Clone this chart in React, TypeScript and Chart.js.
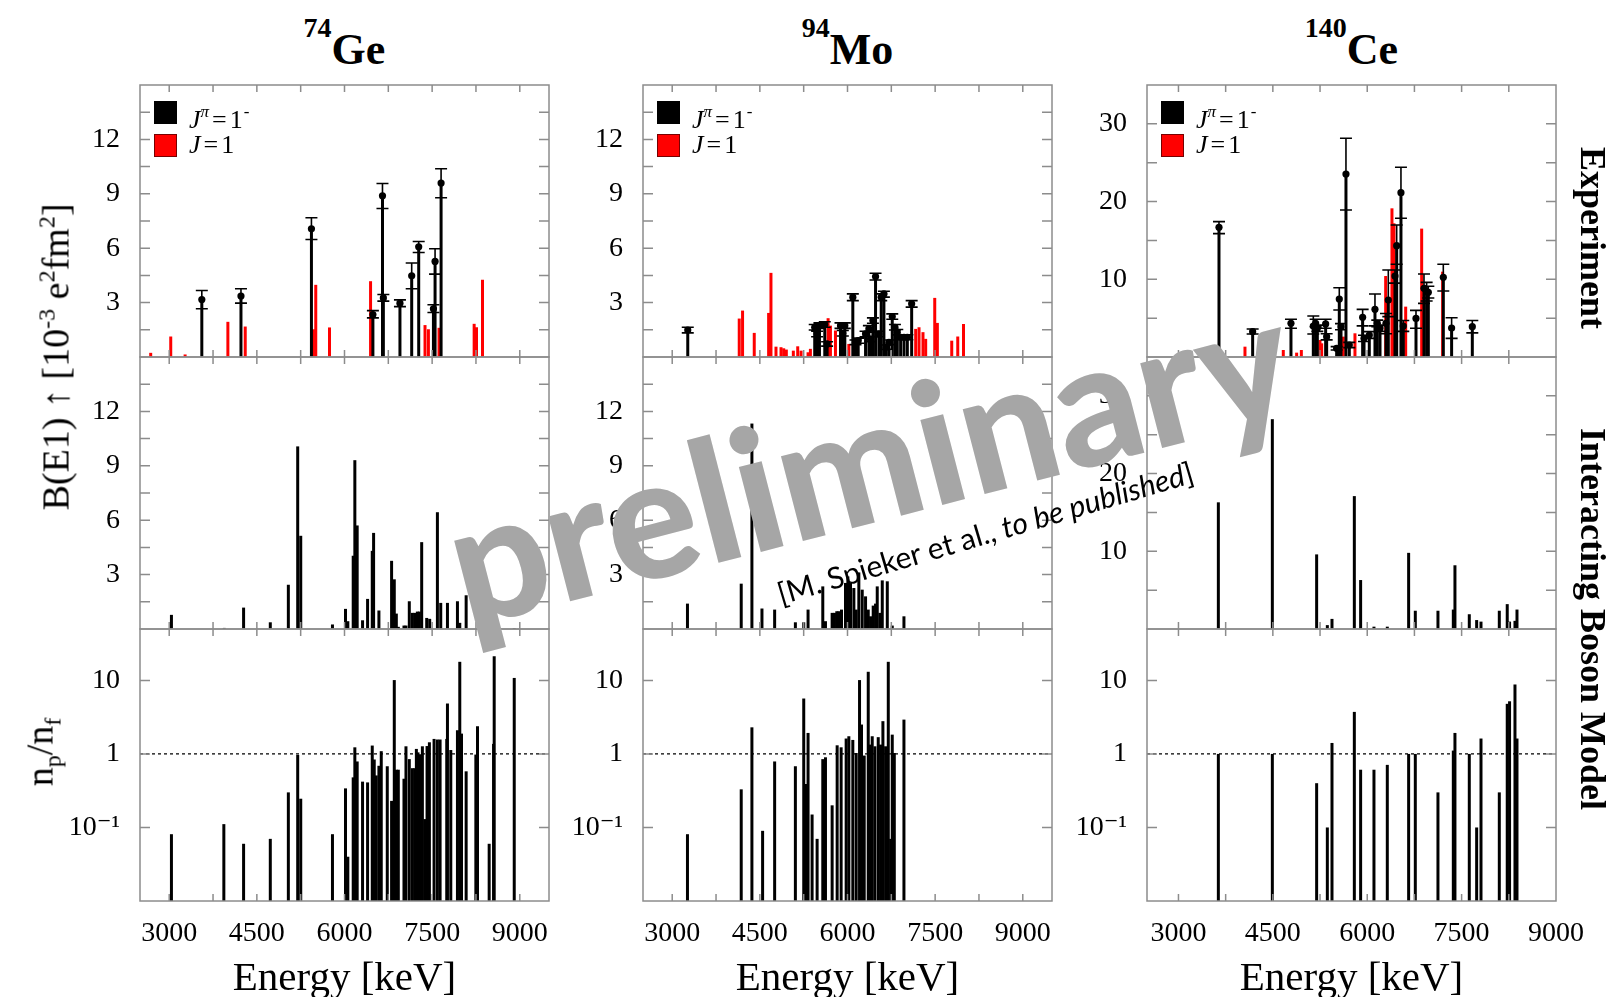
import React, { useEffect, useRef } from 'react';
import { Chart, registerables } from 'chart.js';

Chart.register(...registerables);

// ---------------- tick values / labels ----------------
const energyTicks = [3000, 3750, 4500, 5250, 6000, 6750, 7500, 8250, 9000];
const energyLabels = [3000, 4500, 6000, 7500, 9000];
const bTicksSmall = [1.5, 3, 4.5, 6, 7.5, 9, 10.5, 12, 13.5];
const bLabelsSmall = [3, 6, 9, 12];
const bTicksCe = [5, 10, 15, 20, 25, 30];
const bLabelsCe = [10, 20, 30];
const ratioTicks = [0.1, 1, 10];
const ratioLabels = ['10⁻¹', '1', '10'];

// ---------------- 74Ge experiment ----------------
const geExpBlackE = [3558, 4228, 5434, 6486, 6650, 6665, 6949, 7150, 7270, 7522, 7550, 7653];
const geExpBlackB = [3.17, 3.36, 7.07, 2.34, 8.89, 3.26, 2.97, 4.48, 6.08, 2.66, 5.27, 9.59];
const geExpBlackLo = [2.66, 2.97, 6.48, 2.16, 8.19, 3.08, 2.78, 3.76, 5.76, 2.45, 4.57, 8.78];
const geExpBlackHi = [3.67, 3.76, 7.68, 2.56, 9.57, 3.45, 3.15, 5.18, 6.37, 2.88, 5.97, 10.38];
const geExpRedE = [2683, 3026, 3272, 4004, 4301, 5468, 5508, 5743, 6446, 7378, 7436, 7618, 8219, 8259, 8362];
const geExpRedB = [0.23, 1.13, 0.14, 1.94, 1.68, 1.53, 3.98, 1.63, 4.18, 1.76, 1.53, 1.61, 1.83, 1.64, 4.26];

// ---------------- 94Mo experiment ----------------
const moExpBlackE = [3266, 5439, 5480, 5520, 5611, 5651, 5880, 5920, 5954, 6091, 6137, 6183, 6309, 6366, 6394, 6435, 6480, 6537, 6577, 6623, 6663, 6709, 6766, 6812, 6852, 6909, 6967, 7024, 7098];
const moExpBlackB = [1.49, 1.64, 1.27, 1.73, 1.79, 0.72, 1.73, 1.31, 1.73, 3.30, 0.81, 0.90, 1.27, 1.55, 0.99, 2.01, 4.44, 1.27, 3.30, 3.48, 0.54, 0.81, 2.23, 1.64, 1.37, 1.09, 1.09, 1.09, 2.93];
const moExpBlackLo = [1.33, 1.49, 1.12, 1.58, 1.64, 0.6, 1.58, 1.16, 1.58, 3.11, 0.68, 0.76, 1.12, 1.37, 0.85, 1.86, 4.25, 1.12, 3.11, 3.30, 0.42, 0.68, 2.08, 1.49, 1.22, 0.95, 0.95, 0.95, 2.75];
const moExpBlackHi = [1.64, 1.79, 1.42, 1.88, 1.94, 0.84, 1.88, 1.46, 1.88, 3.48, 0.94, 1.04, 1.42, 1.73, 1.13, 2.16, 4.62, 1.42, 3.48, 3.63, 0.66, 0.94, 2.38, 1.79, 1.52, 1.23, 1.23, 1.23, 3.11];
const moExpRedE = [4147, 4204, 4404, 4650, 4690, 4776, 4862, 4908, 4953, 5073, 5148, 5205, 5325, 5365, 5668, 5708, 5794, 6023, 7167, 7224, 7292, 7338, 7493, 7538, 7784, 7887, 7985];
const moExpRedB = [2.12, 2.56, 1.33, 2.43, 4.64, 0.57, 0.54, 0.48, 0.41, 0.35, 0.59, 0.35, 0.26, 0.45, 2.14, 1.73, 1.46, 0.72, 1.55, 1.64, 1.37, 1.0, 3.26, 1.88, 0.9, 1.13, 1.82];

// ---------------- 140Ce experiment ----------------
const ceExpBlackE = [3644, 4179, 4788, 5143, 5180, 5207, 5339, 5355, 5514, 5556, 5583, 5662, 5715, 5927, 5949, 6033, 6123, 6160, 6203, 6298, 6335, 6441, 6468, 6536, 6573, 6775, 6902, 6944, 6971, 7209, 7341, 7670];
const ceExpBlackB = [16.69, 3.26, 4.33, 3.99, 4.33, 3.69, 4.25, 2.62, 1.12, 7.46, 3.90, 23.55, 1.54, 5.10, 2.40, 2.83, 6.13, 4.33, 3.69, 4.33, 7.33, 10.42, 14.33, 21.15, 3.99, 4.97, 8.84, 8.41, 8.32, 10.25, 3.73, 3.90];
const ceExpBlackLo = [15.87, 2.96, 3.69, 2.96, 3.9, 3.3, 3.69, 2.2, 0.9, 6.05, 3.5, 18.92, 1.2, 4.0, 2.0, 2.4, 4.0, 3.9, 3.3, 3.0, 5.2, 9.5, 11.93, 17.85, 3.3, 3.69, 6.9, 7.2, 7.6, 8.5, 2.4, 3.1];
const ceExpBlackHi = [17.42, 3.6, 4.85, 5.28, 4.85, 4.1, 4.85, 3.0, 1.34, 8.92, 4.3, 28.14, 1.88, 6.13, 2.8, 3.26, 8.1, 4.75, 4.1, 5.6, 11.2, 11.2, 16.99, 24.41, 4.7, 6.0, 10.68, 9.6, 9.1, 11.93, 5.06, 4.7];
const ceExpRedE = [4057, 4666, 4878, 4953, 5249, 5276, 5620, 5805, 6293, 6393, 6425, 6611, 6865, 7198];
const ceExpRedB = [1.33, 0.9, 0.56, 0.9, 2.19, 1.76, 2.62, 3.05, 10.42, 19.13, 17.2, 6.48, 16.52, 10.98];

// ---------------- IBM B(E1) ----------------
const geIbmE = [3038, 3941, 4273, 4730, 5039, 5199, 5251, 5794, 6017, 6057, 6149, 6177, 6217, 6309, 6395, 6475, 6498, 6589, 6806, 6852, 6887, 6921, 7018, 7052, 7109, 7161, 7201, 7247, 7281, 7321, 7407, 7458, 7590, 7647, 7762, 7933, 7973, 8082, 8551, 8905];
const geIbmB = [0.78, 0.06, 1.18, 0.37, 2.44, 10.07, 5.14, 0.25, 1.11, 0.43, 4.04, 9.31, 5.71, 0.48, 1.66, 4.31, 5.30, 1.02, 3.76, 2.74, 0.85, 0.12, 0.19, 0.19, 1.53, 0.89, 0.89, 0.96, 0.96, 4.79, 0.61, 0.56, 6.44, 1.44, 1.44, 1.53, 0.34, 1.86, 0.74, 0.05];
const moIbmE = [3261, 4181, 4364, 4536, 4753, 5108, 5251, 5325, 5577, 5623, 5737, 5777, 5817, 5851, 5897, 5966, 6006, 6051, 6109, 6149, 6194, 6252, 6309, 6355, 6395, 6440, 6480, 6509, 6555, 6595, 6681, 6766, 6966];
const moIbmB = [1.40, 2.50, 11.33, 1.13, 1.07, 0.37, 0.37, 1.07, 2.35, 0.43, 0.89, 0.89, 0.98, 0.98, 1.07, 2.54, 2.90, 2.54, 2.26, 1.07, 3.12, 2.17, 1.80, 1.07, 0.70, 1.29, 1.40, 2.35, 0.89, 2.68, 2.63, 0.19, 0.70];
const ceIbmE = [3634, 4492, 5196, 5366, 5440, 5795, 5895, 6107, 6319, 6658, 6764, 7124, 7368, 7394, 7622, 7739, 7808, 8099, 8225, 8262, 8348, 8380];
const ceIbmB = [16.3, 27.0, 9.6, 0.5, 1.3, 17.1, 6.3, 0.3, 0.3, 9.8, 2.35, 2.35, 2.5, 8.2, 1.9, 1.15, 0.95, 2.35, 3.2, 0.95, 1.05, 2.5];

// ---------------- IBM n_p / n_f ----------------
const geRatioE = [3038, 3935, 4273, 4730, 5039, 5199, 5251, 5794, 6017, 6057, 6149, 6177, 6217, 6309, 6395, 6475, 6509, 6543, 6589, 6629, 6732, 6806, 6852, 6887, 6921, 7018, 7052, 7109, 7161, 7201, 7230, 7258, 7293, 7333, 7373, 7413, 7453, 7533, 7590, 7636, 7750, 7762, 7819, 7933, 7973, 8002, 8082, 8248, 8276, 8476, 8551, 8562, 8905];
const geRatio = [0.081, 0.111, 0.060, 0.070, 0.30, 0.97, 0.246, 0.081, 0.34, 0.040, 0.48, 1.23, 0.79, 0.42, 0.41, 1.30, 0.84, 0.51, 0.69, 1.09, 0.68, 0.23, 10.1, 0.61, 0.61, 0.46, 1.27, 0.85, 0.64, 0.64, 1.17, 1.05, 0.99, 1.27, 0.13, 1.28, 1.44, 1.60, 1.57, 1.57, 1.60, 4.85, 1.13, 2.10, 17.9, 1.89, 0.58, 0.98, 2.38, 0.060, 1.37, 21.3, 10.8];
const moRatioE = [3261, 4181, 4364, 4547, 4753, 5108, 5251, 5291, 5325, 5394, 5480, 5577, 5623, 5737, 5823, 5891, 5977, 6023, 6091, 6149, 6206, 6240, 6286, 6355, 6383, 6423, 6469, 6526, 6566, 6606, 6652, 6698, 6738, 6766, 6801, 6966];
const moRatio = [0.081, 0.33, 2.30, 0.09, 0.79, 0.68, 5.67, 0.39, 1.93, 0.15, 0.07, 0.85, 0.90, 0.20, 1.31, 1.23, 1.62, 1.74, 1.55, 1.03, 10.1, 2.51, 0.95, 13.1, 1.34, 1.74, 1.27, 1.69, 1.34, 2.79, 1.27, 17.9, 0.07, 1.83, 1.03, 2.93];
const ceRatio = [1.0, 1.0, 0.40, 0.10, 1.41, 3.73, 0.61, 0.61, 0.71, 1.0, 1.0, 0.30, 1.11, 1.93, 1.0, 0.10, 1.62, 0.30, 4.8, 5.2, 8.8, 1.62];

// ---------------- layout ----------------
const COL_L = [140, 643, 1147];
const PLOT_W = 409;
const ROW_T = [85, 357, 629];
const PLOT_H = 272;
const Y_AXIS_W = 100;
const PAD_R = 40;
const X_AXIS_H = 70;

const SERIF = "'Liberation Serif', 'DejaVu Serif', serif";
const RED = '#ff0000';

interface BarSet { e: number[]; v: number[]; color: string; width: number }
interface ErrSet { e: number[]; v: number[]; lo: number[]; hi: number[] }
interface PanelSpec {
  col: number;
  row: number;
  xMax: number;
  yType: 'linear' | 'logarithmic';
  yMin: number;
  yMax: number;
  yTicks: number[];
  yLabel: (v: number) => string;
  bars: BarSet[];
  points?: ErrSet;
  unity?: boolean;
}

const smallLabel = (v: number) => (bLabelsSmall.includes(v) ? String(v) : '');
const ceLabel = (v: number) => (bLabelsCe.includes(v) ? String(v) : '');
const ratioLabel = (v: number) => {
  const i = ratioTicks.indexOf(v);
  return i >= 0 ? ratioLabels[i] : '';
};

const panels: PanelSpec[] = [
  { col: 0, row: 0, xMax: 9500, yType: 'linear', yMin: 0, yMax: 15, yTicks: bTicksSmall, yLabel: smallLabel,
    bars: [{ e: geExpBlackE, v: geExpBlackB, color: '#000', width: 3 }, { e: geExpRedE, v: geExpRedB, color: RED, width: 3 }],
    points: { e: geExpBlackE, v: geExpBlackB, lo: geExpBlackLo, hi: geExpBlackHi } },
  { col: 1, row: 0, xMax: 9500, yType: 'linear', yMin: 0, yMax: 15, yTicks: bTicksSmall, yLabel: smallLabel,
    bars: [{ e: moExpBlackE, v: moExpBlackB, color: '#000', width: 3 }, { e: moExpRedE, v: moExpRedB, color: RED, width: 3 }],
    points: { e: moExpBlackE, v: moExpBlackB, lo: moExpBlackLo, hi: moExpBlackHi } },
  { col: 2, row: 0, xMax: 9000, yType: 'linear', yMin: 0, yMax: 35, yTicks: bTicksCe, yLabel: ceLabel,
    bars: [{ e: ceExpBlackE, v: ceExpBlackB, color: '#000', width: 3 }, { e: ceExpRedE, v: ceExpRedB, color: RED, width: 3 }],
    points: { e: ceExpBlackE, v: ceExpBlackB, lo: ceExpBlackLo, hi: ceExpBlackHi } },
  { col: 0, row: 1, xMax: 9500, yType: 'linear', yMin: 0, yMax: 15, yTicks: bTicksSmall, yLabel: smallLabel,
    bars: [{ e: geIbmE, v: geIbmB, color: '#000', width: 3 }] },
  { col: 1, row: 1, xMax: 9500, yType: 'linear', yMin: 0, yMax: 15, yTicks: bTicksSmall, yLabel: smallLabel,
    bars: [{ e: moIbmE, v: moIbmB, color: '#000', width: 3 }] },
  { col: 2, row: 1, xMax: 9000, yType: 'linear', yMin: 0, yMax: 35, yTicks: bTicksCe, yLabel: ceLabel,
    bars: [{ e: ceIbmE, v: ceIbmB, color: '#000', width: 3 }] },
  { col: 0, row: 2, xMax: 9500, yType: 'logarithmic', yMin: 0.01, yMax: 50, yTicks: ratioTicks, yLabel: ratioLabel,
    bars: [{ e: geRatioE, v: geRatio, color: '#000', width: 3 }], unity: true },
  { col: 1, row: 2, xMax: 9500, yType: 'logarithmic', yMin: 0.01, yMax: 50, yTicks: ratioTicks, yLabel: ratioLabel,
    bars: [{ e: moRatioE, v: moRatio, color: '#000', width: 3 }], unity: true },
  { col: 2, row: 2, xMax: 9000, yType: 'logarithmic', yMin: 0.01, yMax: 50, yTicks: ratioTicks, yLabel: ratioLabel,
    bars: [{ e: ceIbmE, v: ceRatio, color: '#000', width: 3 }], unity: true },
];

function makeFramePlugin(p: PanelSpec) {
  return {
    id: 'frame' + p.row + p.col,
    afterDatasetsDraw(chart: any) {
      const { ctx, chartArea: a } = chart;
      const xs = chart.scales.x;
      const ys = chart.scales.y;
      ctx.save();
      if (p.unity) {
        const py = ys.getPixelForValue(1);
        ctx.strokeStyle = '#000';
        ctx.lineWidth = 1.2;
        ctx.setLineDash([3, 3]);
        ctx.beginPath();
        ctx.moveTo(a.left, py);
        ctx.lineTo(a.right, py);
        ctx.stroke();
        ctx.setLineDash([]);
      }
      if (p.points) {
        const { e, lo, hi } = p.points;
        ctx.strokeStyle = '#000';
        ctx.lineWidth = 1.6;
        ctx.beginPath();
        e.forEach((ev, i) => {
          const px = xs.getPixelForValue(ev);
          const pl = ys.getPixelForValue(lo[i]);
          const ph = ys.getPixelForValue(hi[i]);
          ctx.moveTo(px, pl);
          ctx.lineTo(px, ph);
          ctx.moveTo(px - 6, pl);
          ctx.lineTo(px + 6, pl);
          ctx.moveTo(px - 6, ph);
          ctx.lineTo(px + 6, ph);
        });
        ctx.stroke();
      }
      ctx.strokeStyle = '#8c8c8c';
      ctx.lineWidth = 1.5;
      ctx.strokeRect(a.left, a.top, a.right - a.left, a.bottom - a.top);
      ctx.beginPath();
      for (const t of xs.ticks) {
        const px = xs.getPixelForValue(t.value);
        if (px <= a.left + 1 || px >= a.right - 1) continue;
        ctx.moveTo(px, a.bottom);
        ctx.lineTo(px, a.bottom - 7);
        ctx.moveTo(px, a.top);
        ctx.lineTo(px, a.top + 7);
      }
      for (const t of ys.ticks) {
        const py = ys.getPixelForValue(t.value);
        if (py <= a.top + 1 || py >= a.bottom - 1) continue;
        ctx.moveTo(a.left, py);
        ctx.lineTo(a.left + 10, py);
        ctx.moveTo(a.right, py);
        ctx.lineTo(a.right - 10, py);
      }
      ctx.stroke();
      ctx.restore();
    },
  };
}

function buildConfig(p: PanelSpec): any {
  const bottom = p.row === 2;
  const datasets: any[] = [];
  if (p.points) {
    const pts = p.points.e.map((e, i) => ({ x: e, y: p.points!.v[i] }));
    datasets.push({
      type: 'scatter', data: pts, pointRadius: 3.6, pointHoverRadius: 3.6,
      pointBackgroundColor: '#000', pointBorderWidth: 0, order: 0,
    });
  }
  p.bars.forEach((b, k) => {
    datasets.push({
      type: 'bar', data: b.e.map((e, i) => ({ x: e, y: b.v[i] })), backgroundColor: b.color,
      barThickness: b.width, grouped: false, order: k + 1, inflateAmount: 0, borderWidth: 0,
    });
  });
  return {
    type: 'bar',
    data: { datasets },
    plugins: [makeFramePlugin(p)],
    options: {
      responsive: false,
      animation: false,
      events: [],
      layout: { padding: { left: 0, top: 10, right: PAD_R, bottom: bottom ? 0 : 10 } },
      plugins: { legend: { display: false }, tooltip: { enabled: false } },
      scales: {
        x: {
          type: 'linear', min: 2500, max: p.xMax, offset: false,
          grid: { display: false }, border: { display: false },
          ticks: {
            display: bottom, autoSkip: false, maxRotation: 0, minRotation: 0, padding: 8,
            color: '#000', font: { family: SERIF, size: 28 },
            callback: (v: number) => (energyLabels.includes(v) ? String(v) : ''),
          },
          afterBuildTicks: (s: any) => {
            s.ticks = energyTicks.filter((t) => t <= p.xMax).map((v) => ({ value: v }));
          },
          afterFit: (s: any) => {
            s.height = bottom ? X_AXIS_H : 0;
            s.paddingLeft = 0;
            s.paddingRight = 0;
          },
        },
        y: {
          type: p.yType, min: p.yMin, max: p.yMax,
          grid: { display: false }, border: { display: false },
          ticks: {
            autoSkip: false, padding: 12, color: '#000', font: { family: SERIF, size: 28 },
            callback: (v: number) => p.yLabel(v),
          },
          afterBuildTicks: (s: any) => {
            s.ticks = p.yTicks.map((v) => ({ value: v }));
          },
          afterFit: (s: any) => {
            s.width = Y_AXIS_W;
            s.paddingTop = 0;
            s.paddingBottom = 0;
          },
        },
      },
    },
  };
}

function Panel({ p }: { p: PanelSpec }) {
  const ref = useRef<HTMLCanvasElement>(null);
  const bottom = p.row === 2;
  const w = Y_AXIS_W + PLOT_W + PAD_R;
  const h = 10 + PLOT_H + (bottom ? X_AXIS_H : 10);
  useEffect(() => {
    if (!ref.current) return;
    const chart = new Chart(ref.current, buildConfig(p));
    return () => chart.destroy();
  }, [p]);
  return (
    <canvas
      ref={ref}
      width={w}
      height={h}
      style={{ position: 'absolute', left: COL_L[p.col] - Y_AXIS_W, top: ROW_T[p.row] - 10, width: w, height: h }}
    />
  );
}

const titles: [string, string][] = [['74', 'Ge'], ['94', 'Mo'], ['140', 'Ce']];

export default function App() {
  const abs: React.CSSProperties = { position: 'absolute', whiteSpace: 'nowrap' };
  const eq: React.CSSProperties = { margin: '0 3px' };
  return (
    <div style={{ position: 'absolute', left: 0, top: 0, width: 1614, height: 997, overflow: 'hidden', background: '#fff' }}>
      {panels.map((p, i) => (
        <Panel key={i} p={p} />
      ))}

      {titles.map(([m, s], i) => (
        <div key={'t' + i} style={{ ...abs, left: COL_L[i] + PLOT_W / 2, top: 6, transform: 'translateX(-50%)', font: `bold 44px ${SERIF}`, lineHeight: '44px' }}>
          <span style={{ fontSize: 28, verticalAlign: 27 }}>{m}</span>
          {s}
        </div>
      ))}

      {COL_L.map((L, i) => (
        <React.Fragment key={'lg' + i}>
          <div style={{ position: 'absolute', left: L + 14, top: 101, width: 23, height: 23, background: '#000' }} />
          <div style={{ position: 'absolute', left: L + 14, top: 134, width: 23, height: 23, background: RED, boxSizing: 'border-box', border: '1px solid #700' }} />
          <div style={{ ...abs, left: L + 49, top: 99, font: `26px ${SERIF}`, lineHeight: '26px' }}>
            <i>J</i>
            <span style={{ fontSize: 17, verticalAlign: 11, fontStyle: 'italic' }}>π</span>
            <span style={eq}>=</span>1
            <span style={{ fontSize: 17, verticalAlign: 11, marginLeft: 1 }}>-</span>
          </div>
          <div style={{ ...abs, left: L + 49, top: 132, font: `26px ${SERIF}`, lineHeight: '26px' }}>
            <i>J</i>
            <span style={eq}>=</span>1
          </div>
        </React.Fragment>
      ))}

      {COL_L.map((L, i) => (
        <div key={'xl' + i} style={{ ...abs, left: L + PLOT_W / 2, top: 956, transform: 'translateX(-50%)', font: `41px ${SERIF}`, lineHeight: '41px' }}>
          Energy [keV]
        </div>
      ))}

      <div style={{ ...abs, left: 51, top: 357, transform: 'translate(-50%, -50%) rotate(-90deg)', font: `38px ${SERIF}`, lineHeight: '40px' }}>
        B(E1) ↑ [10<span style={{ fontSize: 24, verticalAlign: 14 }}>-3</span> e<span style={{ fontSize: 24, verticalAlign: 14 }}>2</span>fm<span style={{ fontSize: 24, verticalAlign: 14 }}>2</span>]
      </div>
      <div style={{ ...abs, left: 46, top: 752, transform: 'translate(-50%, -50%) rotate(-90deg)', font: `38px ${SERIF}`, lineHeight: '40px' }}>
        n<span style={{ fontSize: 24, verticalAlign: -8 }}>p</span>/n<span style={{ fontSize: 24, verticalAlign: -8 }}>f</span>
      </div>

      <div style={{ ...abs, left: 1593, top: 238, transform: 'translate(-50%, -50%) rotate(90deg)', font: `bold 36px ${SERIF}`, lineHeight: '36px' }}>
        Experiment
      </div>
      <div style={{ ...abs, left: 1593, top: 619, transform: 'translate(-50%, -50%) rotate(90deg)', font: `bold 36px ${SERIF}`, lineHeight: '36px' }}>
        Interacting Boson Model
      </div>

      <div style={{ ...abs, left: 868, top: 456, transform: 'translate(-50%, -50%) rotate(-14.5deg)', font: `900 170px Lato, 'Open Sans', sans-serif`, lineHeight: '170px', color: '#a6a6a6' }}>
        preliminary
      </div>
      <div style={{ ...abs, left: 985, top: 532, transform: 'translate(-50%, -50%) rotate(-16.5deg)', font: `30px Lato, 'Open Sans', sans-serif`, lineHeight: '30px', color: '#000' }}>
        [M. Spieker et al., <i>to be published</i>]
      </div>
    </div>
  );
}
